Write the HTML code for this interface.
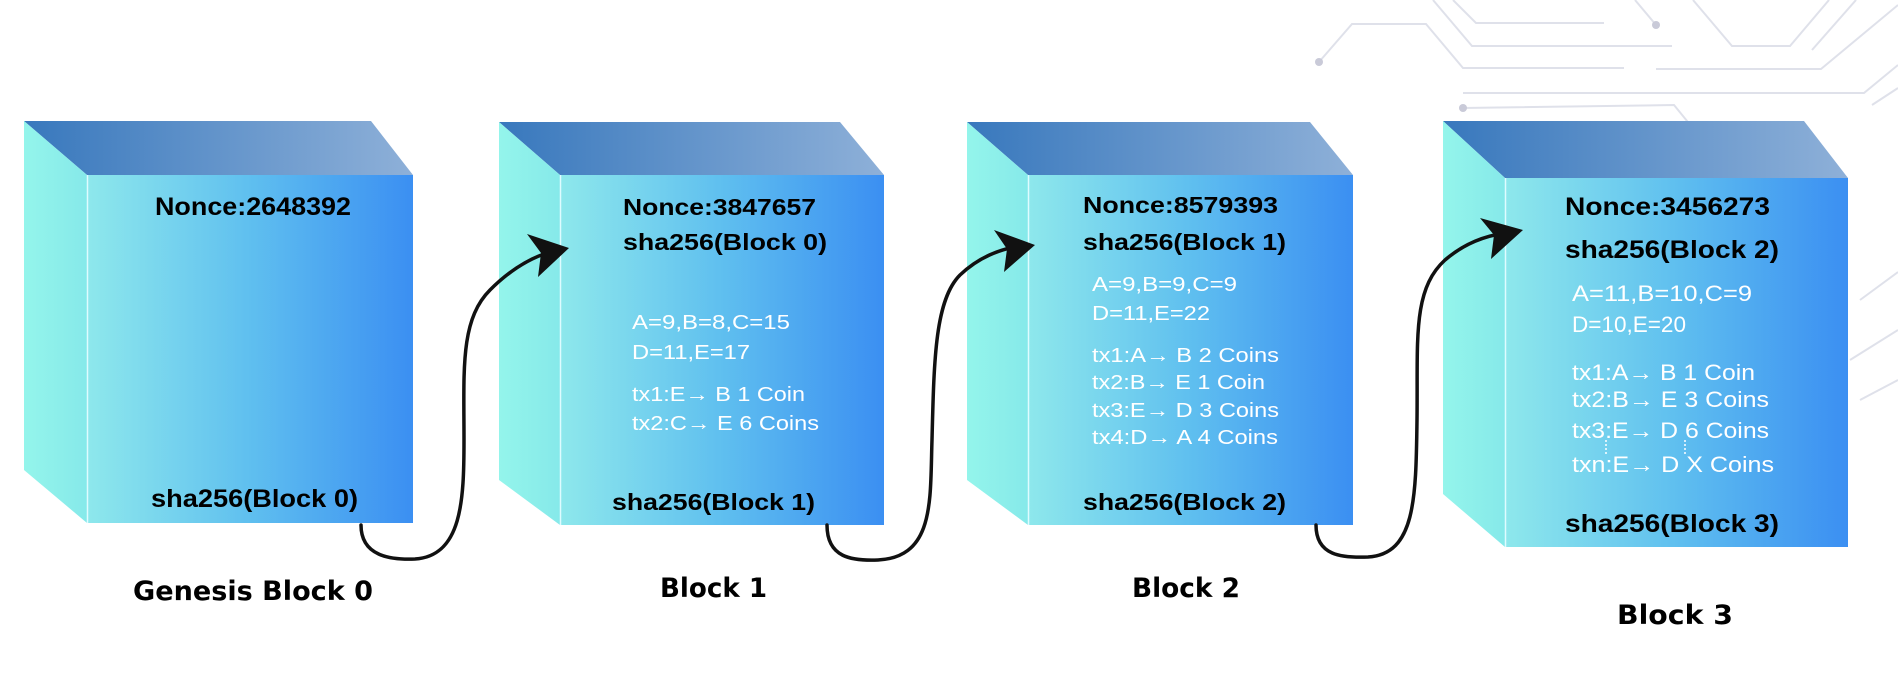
<!DOCTYPE html>
<html><head><meta charset="utf-8"><style>
html,body{margin:0;padding:0;background:#fff;}
svg{display:block;}
.k{font-family:"Liberation Sans",Arial,sans-serif;font-weight:bold;font-size:23px;fill:#000;}
.k2{font-family:"Liberation Sans",Arial,sans-serif;font-weight:bold;font-size:25px;fill:#000;}
.w{font-family:"Liberation Sans",Arial,sans-serif;font-size:20px;fill:#fff;}
.w2{font-family:"Liberation Sans",Arial,sans-serif;font-size:22px;fill:#fff;}
.l{font-family:"DejaVu Sans","Liberation Sans",sans-serif;font-weight:bold;font-size:27px;fill:#000;}
</style></head><body>
<svg width="1898" height="682" viewBox="0 0 1898 682" xmlns="http://www.w3.org/2000/svg">
<defs>
<linearGradient id="front" x1="0" y1="0" x2="1" y2="0">
<stop offset="0" stop-color="#8ee8ec"/><stop offset="0.5" stop-color="#5fbfef"/><stop offset="1" stop-color="#3b8ff2"/>
</linearGradient>
<linearGradient id="top" x1="0" y1="0" x2="1" y2="0">
<stop offset="0" stop-color="#3878bd"/><stop offset="1" stop-color="#8eb0d8"/>
</linearGradient>
<linearGradient id="side" x1="0" y1="0" x2="1" y2="0">
<stop offset="0" stop-color="#94f5eb"/><stop offset="1" stop-color="#86e9ea"/>
</linearGradient>
</defs>

<g stroke="#dfe1ea" stroke-width="2" fill="none">
<polyline points="1319,62 1352,24 1426,24 1463,68 1624,68"/>
<polyline points="1433,0 1472,46 1672,46"/>
<polyline points="1453,0 1476,23 1604,23"/>
<polyline points="1635,0 1656,25"/>
<polyline points="1693,0 1732,46 1790,46 1829,0"/>
<polyline points="1812,50 1856,0"/>
<polyline points="1656,69 1821,69 1898,5"/>
<polyline points="1463,93 1864,93 1898,65"/>
<polyline points="1463,108 1674,105 1705,143"/>
<polyline points="1664,125 1558,125 1542,142"/>
<polyline points="1872,105 1898,88"/>
<polyline points="1860,300 1898,272"/>
<polyline points="1850,360 1898,330"/>
<polyline points="1860,400 1898,380"/>
</g>
<g fill="#c9cad8">
<circle cx="1319" cy="62" r="4"/><circle cx="1656" cy="25" r="4"/><circle cx="1463" cy="108" r="4"/><circle cx="1664" cy="125" r="4"/>
</g>

<!-- Block 0 -->
<polygon points="24,121 371,121 413,175 87,175" fill="url(#top)"/>
<polygon points="24,121 87,175 87,523 24,470" fill="url(#side)"/>
<rect x="87" y="175" width="326" height="348" fill="url(#front)"/>
<line x1="87.5" y1="175" x2="87.5" y2="523" stroke="#dffcff" stroke-width="1.5"/>
<text class="k2" x="155" y="215" textLength="196" lengthAdjust="spacingAndGlyphs">Nonce:2648392</text>
<text class="k2" x="151" y="507" textLength="207" lengthAdjust="spacingAndGlyphs">sha256(Block 0)</text>
<text class="l" x="133" y="600" textLength="240" lengthAdjust="spacingAndGlyphs">Genesis Block 0</text>

<!-- Block 1 -->
<polygon points="499,122 840,122 884,175 560,175" fill="url(#top)"/>
<polygon points="499,122 560,175 560,525 499,480" fill="url(#side)"/>
<rect x="560" y="175" width="324" height="350" fill="url(#front)"/>
<line x1="560.5" y1="175" x2="560.5" y2="525" stroke="#dffcff" stroke-width="1.5"/>
<text class="k" x="623" y="215" textLength="193" lengthAdjust="spacingAndGlyphs">Nonce:3847657</text>
<text class="k" x="623" y="250" textLength="204" lengthAdjust="spacingAndGlyphs">sha256(Block 0)</text>
<text class="w" x="632" y="329" textLength="158" lengthAdjust="spacingAndGlyphs">A=9,B=8,C=15</text>
<text class="w" x="632" y="359" textLength="118" lengthAdjust="spacingAndGlyphs">D=11,E=17</text>
<text class="w" x="632" y="401" textLength="173" lengthAdjust="spacingAndGlyphs">tx1:E→ B 1 Coin</text>
<text class="w" x="632" y="430" textLength="187" lengthAdjust="spacingAndGlyphs">tx2:C→ E 6 Coins</text>
<text class="k" x="612" y="510" textLength="203" lengthAdjust="spacingAndGlyphs">sha256(Block 1)</text>
<text class="l" x="660" y="597" textLength="107" lengthAdjust="spacingAndGlyphs">Block 1</text>

<!-- Block 2 -->
<polygon points="967,122 1310,122 1353,175 1028,175" fill="url(#top)"/>
<polygon points="967,122 1028,175 1028,525 967,480" fill="url(#side)"/>
<rect x="1028" y="175" width="325" height="350" fill="url(#front)"/>
<line x1="1028.5" y1="175" x2="1028.5" y2="525" stroke="#dffcff" stroke-width="1.5"/>
<text class="k" x="1083" y="213" textLength="195" lengthAdjust="spacingAndGlyphs">Nonce:8579393</text>
<text class="k" x="1083" y="250" textLength="203" lengthAdjust="spacingAndGlyphs">sha256(Block 1)</text>
<text class="w" x="1092" y="291" textLength="145" lengthAdjust="spacingAndGlyphs">A=9,B=9,C=9</text>
<text class="w" x="1092" y="320" textLength="118" lengthAdjust="spacingAndGlyphs">D=11,E=22</text>
<text class="w" x="1092" y="362" textLength="187" lengthAdjust="spacingAndGlyphs">tx1:A→ B 2 Coins</text>
<text class="w" x="1092" y="389" textLength="173" lengthAdjust="spacingAndGlyphs">tx2:B→ E 1 Coin</text>
<text class="w" x="1092" y="417" textLength="187" lengthAdjust="spacingAndGlyphs">tx3:E→ D 3 Coins</text>
<text class="w" x="1092" y="444" textLength="186" lengthAdjust="spacingAndGlyphs">tx4:D→ A 4 Coins</text>
<text class="k" x="1083" y="510" textLength="203" lengthAdjust="spacingAndGlyphs">sha256(Block 2)</text>
<text class="l" x="1132" y="597" textLength="108" lengthAdjust="spacingAndGlyphs">Block 2</text>

<!-- Block 3 -->
<polygon points="1443,121 1804,121 1848,178 1505,178" fill="url(#top)"/>
<polygon points="1443,121 1505,178 1505,547 1443,494" fill="url(#side)"/>
<rect x="1505" y="178" width="343" height="369" fill="url(#front)"/>
<line x1="1505.5" y1="178" x2="1505.5" y2="547" stroke="#dffcff" stroke-width="1.5"/>
<text class="k2" x="1565" y="215" textLength="205" lengthAdjust="spacingAndGlyphs">Nonce:3456273</text>
<text class="k2" x="1565" y="258" textLength="214" lengthAdjust="spacingAndGlyphs">sha256(Block 2)</text>
<text class="w2" x="1572" y="301" textLength="180" lengthAdjust="spacingAndGlyphs">A=11,B=10,C=9</text>
<text class="w2" x="1572" y="332" textLength="114" lengthAdjust="spacingAndGlyphs">D=10,E=20</text>
<text class="w2" x="1572" y="380" textLength="183" lengthAdjust="spacingAndGlyphs">tx1:A→ B 1 Coin</text>
<text class="w2" x="1572" y="407" textLength="197" lengthAdjust="spacingAndGlyphs">tx2:B→ E 3 Coins</text>
<text class="w2" x="1572" y="438" textLength="197" lengthAdjust="spacingAndGlyphs">tx3:E→ D 6 Coins</text>
<text class="w2" x="1572" y="472" textLength="202" lengthAdjust="spacingAndGlyphs">txn:E→ D X Coins</text>
<g stroke="#fff" stroke-width="1.5" stroke-dasharray="2,2"><line x1="1606" y1="440" x2="1606" y2="456"/><line x1="1685" y1="440" x2="1685" y2="456"/></g>
<text class="k2" x="1565" y="532" textLength="214" lengthAdjust="spacingAndGlyphs">sha256(Block 3)</text>
<text class="l" x="1617" y="624" textLength="116" lengthAdjust="spacingAndGlyphs">Block 3</text>

<g fill="none" stroke="#111" stroke-width="3.5" stroke-linecap="round">
<path d="M361,525 C361,556 390,560 415,559 C462,556 464,500 464,440 C464,370 460,320 490,290 C510,270 530,258 550,252"/>
<path d="M827,525 C827,558 852,561 878,560 C935,557 930,500 932,440 C934,360 935,300 960,275 C980,256 1000,250 1018,246"/>
<path d="M1316,525 C1316,556 1342,558 1368,557 C1415,554 1416,500 1417,420 C1418,340 1412,290 1445,260 C1465,243 1485,236 1505,233"/>
</g>
<g fill="#111">
<polygon points="569,248 527,234 541,253 538,277"/>
<polygon points="1035,245 994,230 1007,249 1004,272"/>
<polygon points="1523,230 1480,218 1494,235 1491,259"/>
</g>
</svg>
</body></html>
